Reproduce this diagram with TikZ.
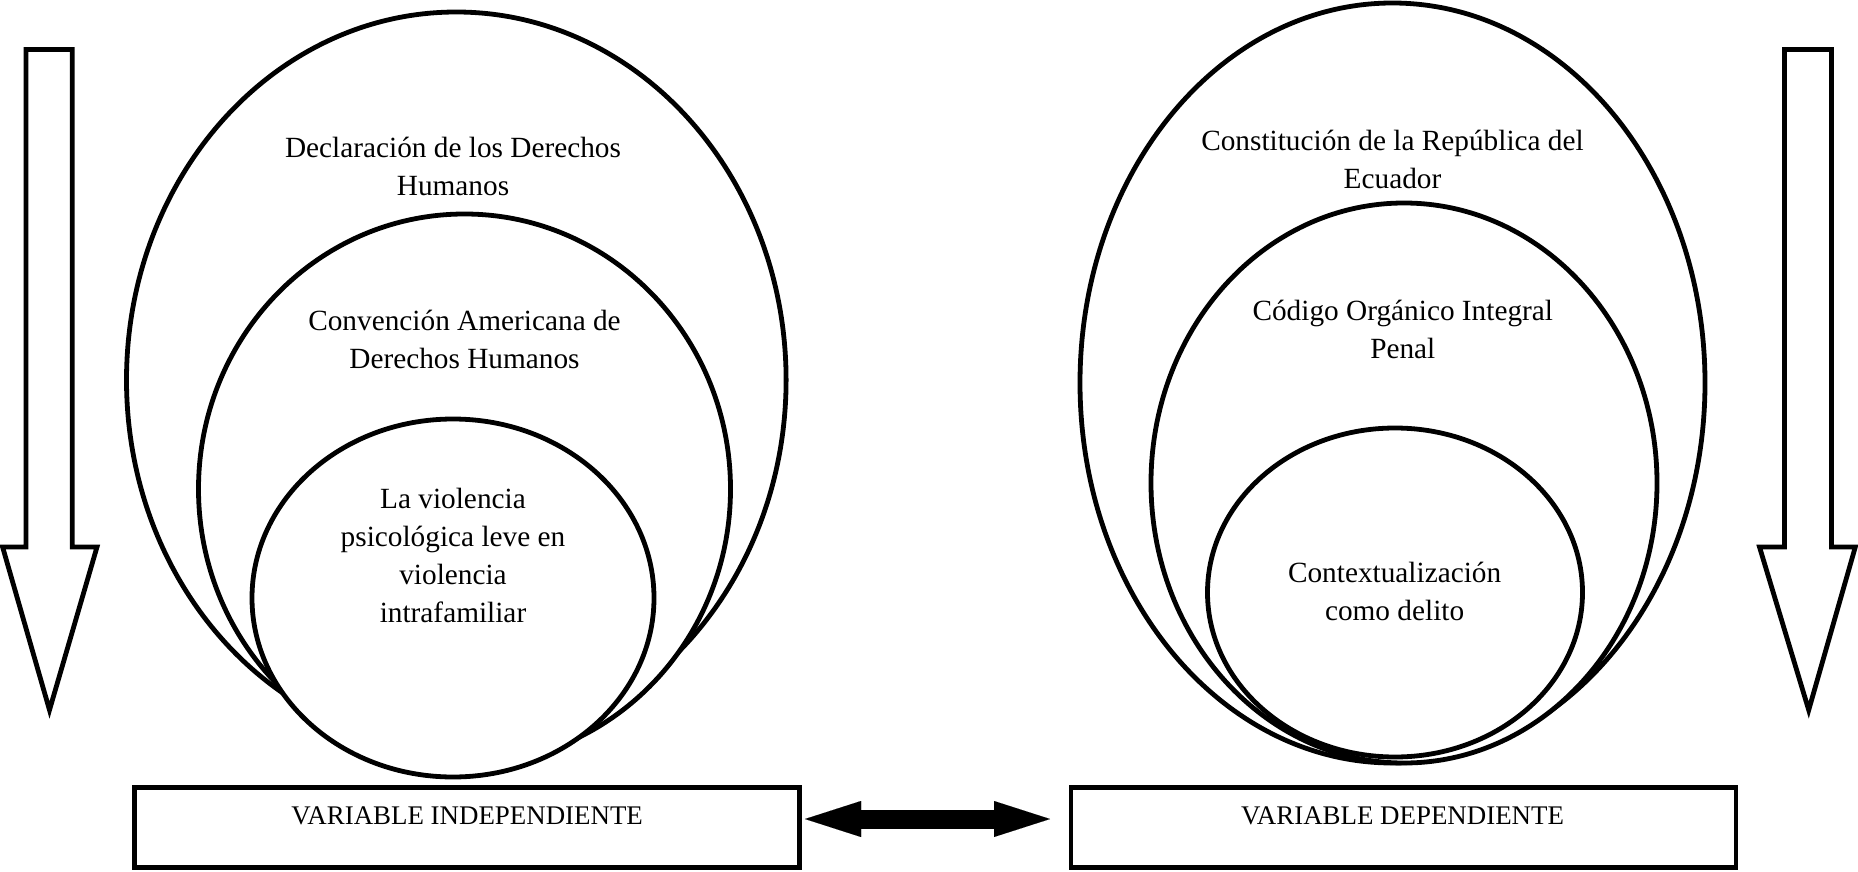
\documentclass[tikz,border=0pt]{standalone}
\usepackage{fontspec}
\setmainfont{Liberation Serif}
\usetikzlibrary{shapes.geometric,arrows.meta}
\begin{document}
\begin{tikzpicture}[x=0.5pt,y=-0.5pt,
  circ/.style={ellipse, draw, fill=white, line width=2.4pt, inner sep=0pt, outer sep=0pt},
  lbl/.style={align=center, font=\fontsize{14.65}{19}\selectfont, inner sep=0pt},
  varbox/.style={draw, line width=2.4pt, minimum width=332.5pt, minimum height=40pt, inner sep=0pt},
  vartext/.style={font=\fontsize{13.45}{16}\selectfont, inner sep=0pt, anchor=base},
  downarrow/.style={draw, line width=2.4pt, fill=white, line join=miter},
  dbl/.style={line width=9.5pt, {Triangle[length=28pt,width=18pt,line width=0.01pt]}-{Triangle[length=28pt,width=18pt,line width=0.01pt]}}
]
\useasboundingbox (0,0) rectangle (1858,872);
\fill[white] (0,0) rectangle (1858,872);

% left down arrow
\draw[downarrow] (26,49.5) -- (72.3,49.5) -- (72.3,547) -- (97,547) -- (49.5,710) -- (2.6,547) -- (26,547) -- cycle;
% right down arrow
\draw[downarrow] (1784.5,49.5) -- (1831.5,49.5) -- (1831.5,547) -- (1855.3,547) -- (1808.7,710) -- (1759.5,547) -- (1784.5,547) -- cycle;

% left ellipses
\node[circ, minimum width=329.8pt, minimum height=368pt] (lo) at (456.3,380) {};
\node[circ, minimum width=266pt, minimum height=275pt] (lm) at (464.5,489) {};
\node[circ, minimum width=201pt, minimum height=179pt] (li) at (453,598) {};
% right ellipses
\node[circ, minimum width=312.5pt, minimum height=380pt] (ro) at (1392.5,383) {};
\node[circ, minimum width=253pt, minimum height=280pt] (rm) at (1404,483) {};
\node[circ, minimum width=187.5pt, minimum height=164.5pt] (ri) at (1395,592.5) {};

% texts
\node[lbl] (t1) at (453,166.6) {Declaración de los Derechos\\Humanos};
\node[lbl] (t2) at (464.5,339.6) {Convención Americana de\\Derechos Humanos};
\node[lbl] (t3) at (453,555.5) {La violencia\\psicológica leve en\\violencia\\intrafamiliar};
\node[lbl] (t4) at (1392.5,159.5) {Constitución de la República del\\Ecuador};
\node[lbl] (t5) at (1402.8,329) {Código Orgánico Integral\\Penal};
\node[lbl] (t6) at (1394.6,591) {Contextualización\\como delito};

% variable boxes
\node[varbox] (ind) at (467,827.5) {};
\node[vartext] (indt) at (467.2,824) {VARIABLE INDEPENDIENTE};
\node[varbox] (dep) at (1403.4,827.5) {};
\node[vartext] (dept) at (1402.5,824) {VARIABLE DEPENDIENTE};

% double arrow
\coordinate (da1) at (805,819);
\coordinate (da2) at (1050,819);
\draw[dbl] (da1) -- (da2);
\end{tikzpicture}
\end{document}
